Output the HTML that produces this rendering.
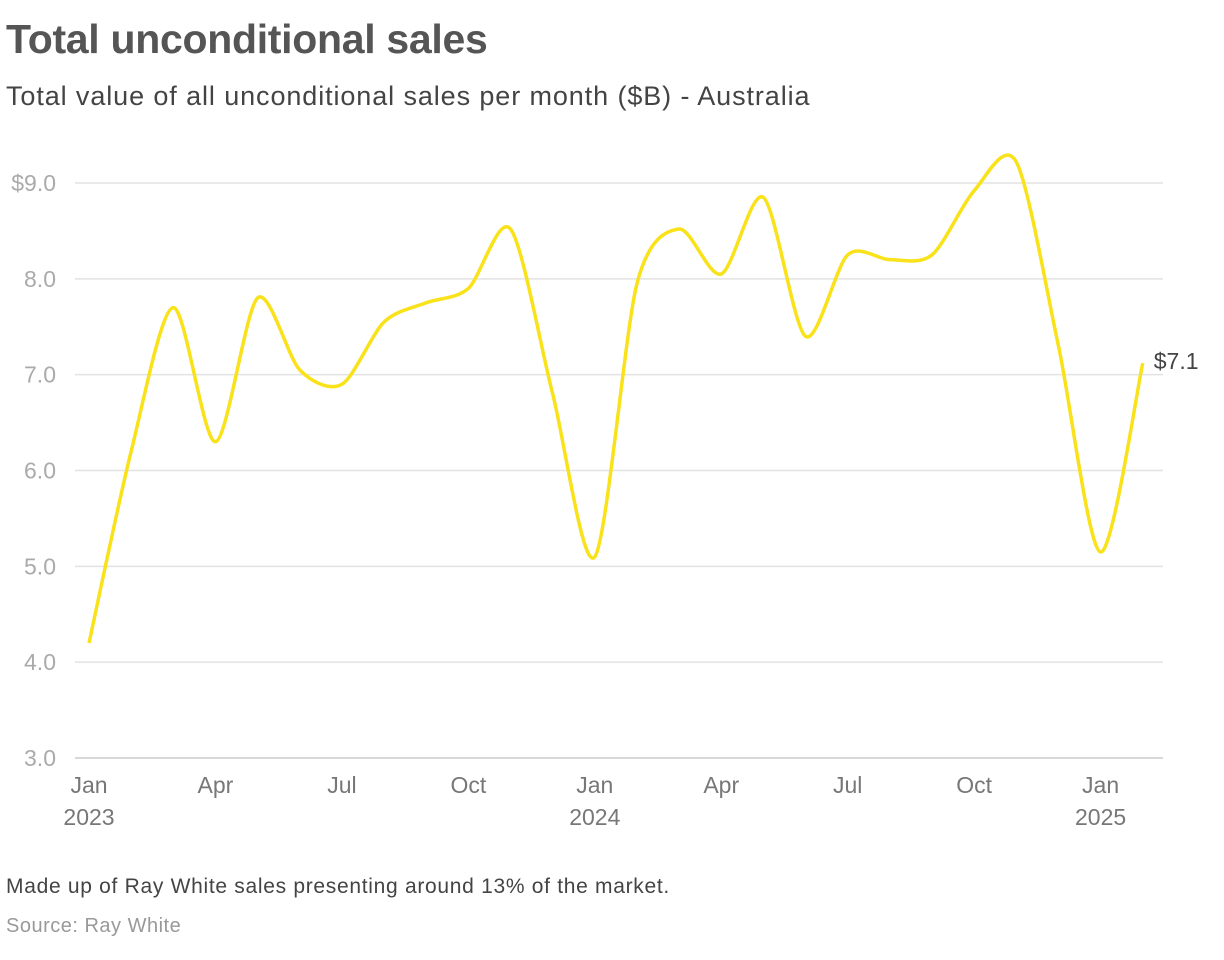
<!DOCTYPE html>
<html><head><meta charset="utf-8"><style>
body{margin:0;width:1224px;height:960px;background:#fff;font-family:"Liberation Sans",sans-serif;overflow:hidden;position:relative}
.t{position:absolute;left:6px;white-space:nowrap}
</style></head><body>
<div class="t" style="top:16px;font-size:41px;font-weight:bold;color:#555;letter-spacing:-0.3px">Total unconditional sales</div>
<div class="t" style="top:81px;font-size:27px;color:#444;letter-spacing:0.9px">Total value of all unconditional sales per month ($B) - Australia</div>
<svg id="c" width="1224" height="960" style="position:absolute;left:0;top:0"></svg>
<div class="t" style="top:875px;font-size:21px;color:#444;letter-spacing:0.7px">Made up of Ray White sales presenting around 13% of the market.</div>
<div class="t" style="top:915px;font-size:20px;color:#999;letter-spacing:0.5px">Source: Ray White</div>
<script>
const months=["Jan","Feb","Mar","Apr","May","Jun","Jul","Aug","Sep","Oct","Nov","Dec","Jan","Feb","Mar","Apr","May","Jun","Jul","Aug","Sep","Oct","Nov","Dec","Jan","Feb"];
const values=[4.2,6.2,7.7,6.3,7.8,7.05,6.9,7.55,7.75,7.9,8.52,6.8,5.1,7.95,8.52,8.05,8.85,7.4,8.25,8.2,8.25,8.92,9.22,7.3,5.15,7.12];
const yTicks=[3,4,5,6,7,8,9];
const xTickIdx=[0,3,6,9,12,15,18,21,24];
const xTickLabels=["Jan","Apr","Jul","Oct","Jan","Apr","Jul","Oct","Jan"];
const yearIdx=[0,12,24];
const yearLabels=["2023","2024","2025"];
const NS="http://www.w3.org/2000/svg",svg=document.getElementById('c');
const x=i=>89+i*42.15, y=v=>758-(v-3)*95.83;
function mk(t,a,txt){const e=document.createElementNS(NS,t);for(const k in a)e.setAttribute(k,a[k]);if(txt!=null)e.textContent=txt;svg.appendChild(e);return e;}
yTicks.forEach(v=>{
 const l=mk('line',{x1:75,x2:1163,y1:y(v),y2:y(v),stroke:v==3?'#ccc':'#e2e2e2','stroke-width':1.5});
 
 
 const t=mk('text',{x:56,y:y(v)+8,'text-anchor':'end','font-size':23,fill:'#aaa','font-family':'Liberation Sans'},(v==9?'$':'')+v.toFixed(1));
 
 
});
xTickIdx.forEach((i,k)=>{
 const t=mk('text',{x:x(i),y:793,'text-anchor':'middle','font-size':23,fill:'#777','font-family':'Liberation Sans'},xTickLabels[k]);
 
 
});
yearIdx.forEach((i,k)=>{
 const t=mk('text',{x:x(i),y:825,'text-anchor':'middle','font-size':23,fill:'#777','font-family':'Liberation Sans'},yearLabels[k]);
 
 
});
const P=values.map((v,i)=>[x(i),y(v)]);
let d='M'+P[0][0]+','+P[0][1];
for(let i=0;i<P.length-1;i++){
 const p0=P[Math.max(0,i-1)],p1=P[i],p2=P[i+1],p3=P[Math.min(P.length-1,i+2)];
 const c1=[p1[0]+(p2[0]-p0[0])/7,p1[1]+(p2[1]-p0[1])/7],c2=[p2[0]-(p3[0]-p1[0])/7,p2[1]-(p3[1]-p1[1])/7];
 d+=` C${c1[0]},${c1[1]} ${c2[0]},${c2[1]} ${p2[0]},${p2[1]}`;
}
const ln=mk('path',{d,fill:'none',stroke:'#f9e21a','stroke-width':3.5,'stroke-linejoin':'round'});


const last=values.length-1;
const lb=mk('text',{x:x(last)+11,y:y(values[last])+6,'font-size':23,fill:'#444','font-family':'Liberation Sans'},'$'+values[last].toFixed(1));


</script>
</body></html>
